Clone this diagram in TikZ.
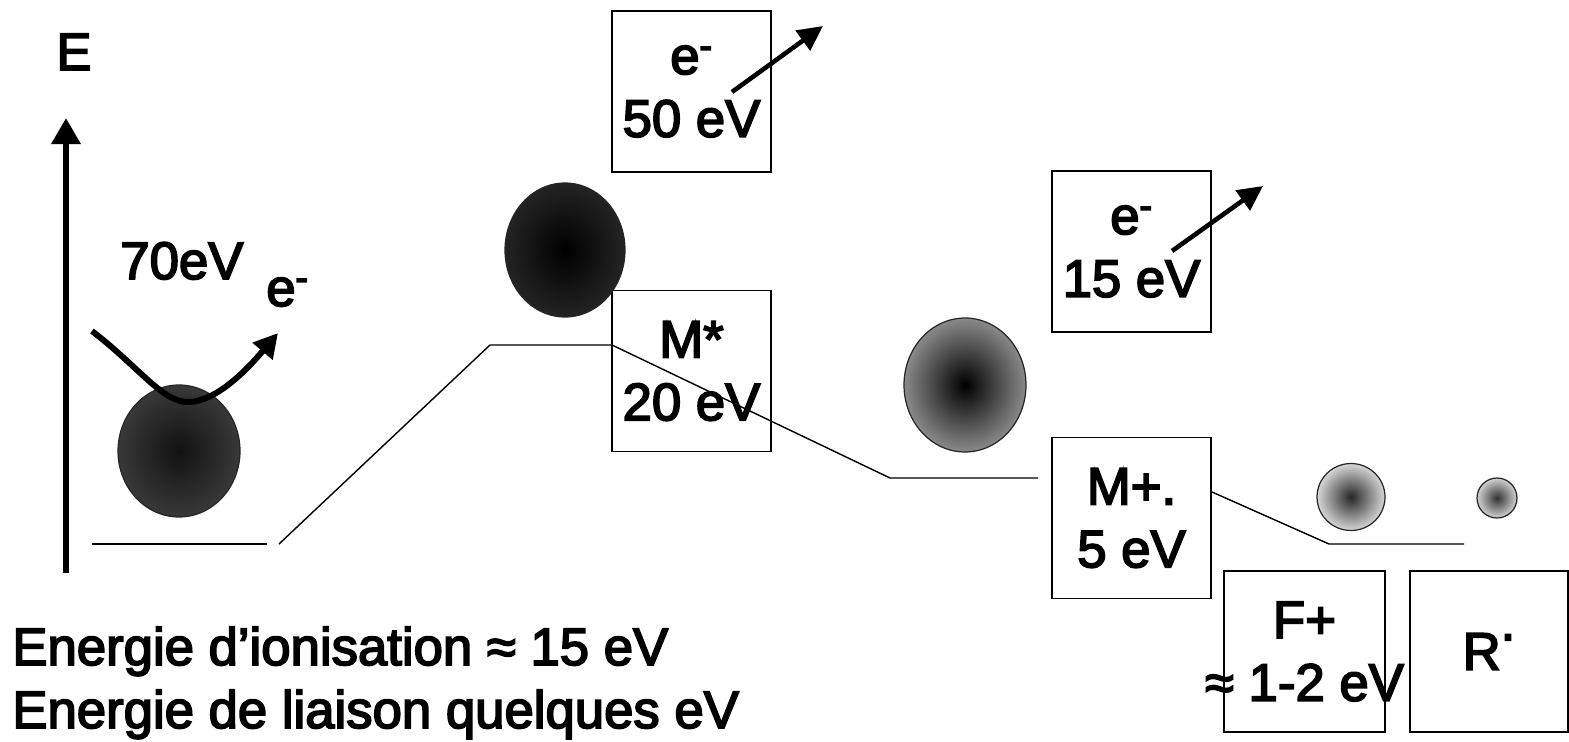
\documentclass[tikz,border=0pt]{standalone}
\usepackage{fontspec}
\setmainfont{Liberation Sans}
\usetikzlibrary{arrows.meta,shapes.geometric}
\newcommand\eminus{e\textsuperscript{-}}
\begin{document}
\begin{tikzpicture}[x=0.02cm,y=-0.02cm,
  txt/.style={font=\fontsize{30}{35.7}\selectfont, inner sep=0pt, align=center,
    execute at begin node={\special{pdf:literal direct 2 Tr 1.0 w}},
    execute at end node={\special{pdf:literal direct 0 Tr}}},
  box/.style={txt, draw, line width=0.8pt, minimum width=3.18cm, minimum height=3.22cm},
  ball/.style={ellipse, draw=black!85, line width=0.7pt, inner sep=0pt},
  level/.style={line width=0.8pt},
  axisarrow/.style={line width=3.6pt, -{Triangle[length=0.52cm,width=0.56cm]}},
  hitarrow/.style={line width=3.4pt, -{Triangle[length=0.48cm,width=0.5cm]}},
  outarrow/.style={line width=2.6pt, -{Triangle[length=0.5cm,width=0.48cm]}}]
\useasboundingbox (0,0) rectangle (1569,741);

% boxes
\node[box] (bA) at (691.5,91.5) {\eminus\\50 eV};
\node[box] (bB) at (691.5,371) {M*\\20 eV};
\node[box] (bC) at (1131.5,251.5) {\eminus\\15 eV};
\node[box] (bD) at (1131.5,518) {M+.\\5 eV};
\node[box, minimum width=3.22cm, inner xsep=-0.6cm] (bE) at (1304.5,651.5) {F+\\≈ 1-2 eV};
\node[box, minimum width=3.16cm] (bF) at (1489,651.5) {R\raisebox{0.56em}{.}};

% molecules
\node[ball, minimum width=2.44cm, minimum height=2.64cm, inner color=black!93, outer color=black!78] (m1) at (179,451) {};
\node[ball, minimum width=2.40cm, minimum height=2.68cm, inner color=black, outer color=black!86] (m2) at (565,250) {};
\node[ball, minimum width=2.44cm, minimum height=2.68cm, inner color=black, outer color=black!46] (m3) at (965,385) {};
\node[ball, minimum width=1.36cm, minimum height=1.34cm, inner color=black!85, outer color=black!16] (m4) at (1351,497) {};
\node[ball, minimum width=0.80cm, minimum height=0.80cm, inner color=black!80, outer color=black!18] (m5) at (1497,498) {};

% energy levels
\coordinate (l1a) at (92,544);
\coordinate (l1b) at (267,544);
\coordinate (l2a) at (279,544);
\coordinate (l2b) at (490,345);
\coordinate (l2c) at (612,345);
\coordinate (l2d) at (890,478);
\coordinate (l2e) at (1038,478);
\coordinate (l3a) at (1212,492);
\coordinate (l3b) at (1329,544);
\coordinate (l3c) at (1464,544);
\draw[level] (l1a) -- (l1b);
\draw[level] (l2a) -- (l2b) -- (l2c) -- (l2d) -- (l2e);
\draw[level] (l3a) -- (l3b) -- (l3c);

% energy axis
\coordinate (ax0) at (66,573);
\coordinate (ax1) at (66,118);
\draw[axisarrow] (ax0) -- (ax1);
\node[txt, anchor=base] (Elab) at (74,70) {E};

% incoming electron
\coordinate (h0) at (92,331);
\coordinate (h1) at (189,402);
\coordinate (h2) at (278,333);
\draw[hitarrow] (h0) .. controls (140,368) and (163,403) .. (h1) .. controls (216,401) and (245,372) .. (h2);
\node[txt, anchor=base west] (t70) at (120,279) {70eV};
\node[txt, anchor=base west] (te) at (266,306) {\eminus};

% outgoing electrons
\coordinate (o1a) at (732,92);
\coordinate (o1b) at (823,26);
\coordinate (o2a) at (1172,251);
\coordinate (o2b) at (1263,186);
\draw[outarrow] (o1a) -- (o1b);
\draw[outarrow] (o2a) -- (o2b);

% notes
\node[txt, anchor=base west] (n1) at (12,665) {Energie d’ionisation ≈ 15 eV};
\node[txt, anchor=base west] (n2) at (12,728) {Energie de liaison quelques eV};
\end{tikzpicture}
\end{document}
